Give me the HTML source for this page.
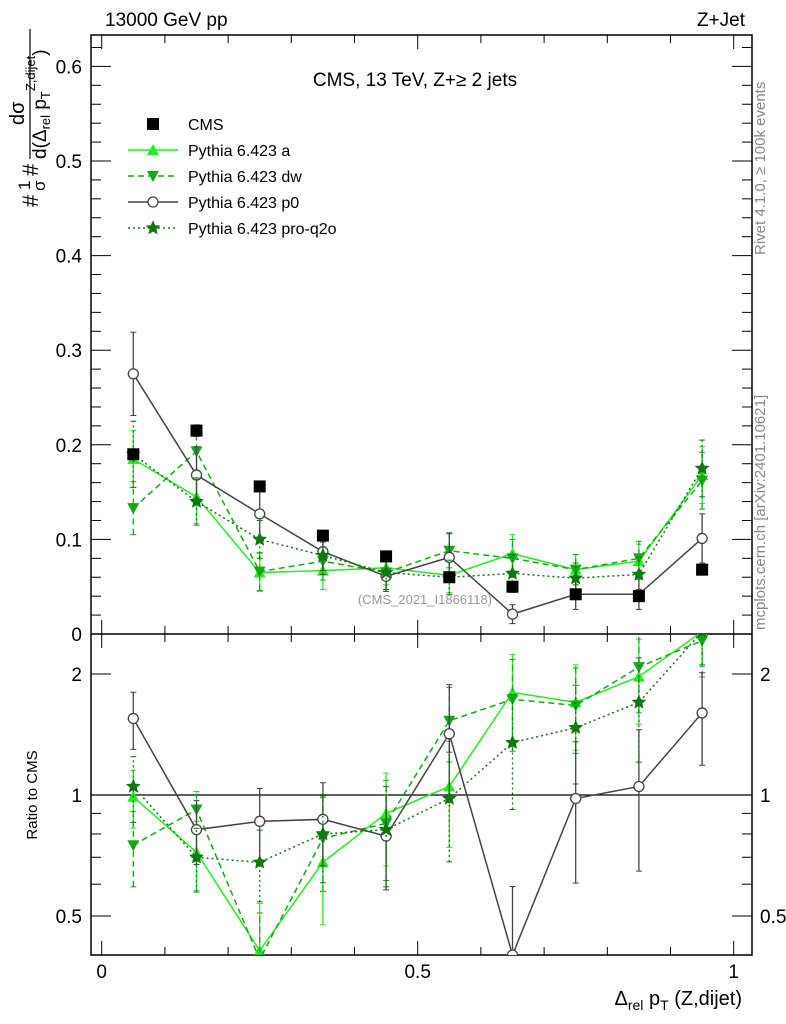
<!DOCTYPE html>
<html><head><meta charset="utf-8"><style>
html,body{margin:0;padding:0;background:#fff;overflow:hidden;width:786px;height:1024px;}
svg{display:block;font-family:"Liberation Sans",sans-serif;}
</style></head><body>
<svg id="chart" width="786" height="1024" viewBox="0 0 786 1024">
<g id="frame"></g>
<g id="marks"></g>
<text x="105" y="26" font-size="19">13000 GeV pp</text>
<text x="745" y="26" font-size="19" text-anchor="end">Z+Jet</text>
<text x="415" y="86" font-size="19" text-anchor="middle">CMS, 13 TeV, Z+≥ 2 jets</text>
<text x="425" y="604" font-size="13" fill="#999" text-anchor="middle">(CMS_2021_I1866118)</text>
<text transform="translate(765,255) rotate(-90)" font-size="15" fill="#888">Rivet 4.1.0, ≥ 100k events</text>
<text transform="translate(765,630) rotate(-90)" font-size="15" fill="#888">mcplots.cern.ch [arXiv:2401.10621]</text>
<text transform="translate(37,795) rotate(-90)" font-size="15" text-anchor="middle">Ratio to CMS</text>
<g transform="translate(46,207) rotate(-90)">
 <text x="0" y="-8" font-size="22">#</text>
 <text x="17" y="-16" font-size="17">1</text>
 <text x="16" y="-1" font-size="17">σ</text>
 <text x="31" y="-8" font-size="22">#</text>
 <text x="82" y="-22" font-size="20">dσ</text>
 <line x1="48" y1="-16" x2="178" y2="-16" stroke="#000" stroke-width="1.2"/>
 <text x="48" y="0" font-size="19">d(Δ<tspan font-size="13" dy="4">rel</tspan><tspan dy="-4"> p</tspan><tspan font-size="13" dy="4">T</tspan><tspan font-size="13" dy="-15">Z,dijet</tspan><tspan dy="11">)</tspan></text>
</g>
<text x="742" y="1005" font-size="20" text-anchor="end">Δ<tspan font-size="14" dy="5">rel</tspan><tspan dy="-5"> p</tspan><tspan font-size="14" dy="5">T</tspan><tspan dy="-5"> (Z,dijet)</tspan></text>
<g id="legend"></g>
</svg>
<script>
const xCenters=[0.05,0.15,0.25,0.35,0.45,0.55,0.65,0.75,0.85,0.95];
const cmsVals=[0.19,0.215,0.156,0.104,0.082,0.060,0.050,0.042,0.040,0.068];
const cmsErr=[0.005,0.006,0.005,0.004,0.003,0.003,0.003,0.002,0.002,0.002];
const aVals=[0.185,0.145,0.065,0.067,0.070,0.062,0.085,0.068,0.077,0.168];
const aErr=[0.030,0.028,0.020,0.020,0.018,0.018,0.020,0.016,0.018,0.030];
const dwVals=[0.133,0.193,0.066,0.077,0.065,0.088,0.080,0.068,0.080,0.162];
const dwErr=[0.028,0.020,0.020,0.020,0.018,0.018,0.020,0.016,0.018,0.030];
const p0Vals=[0.275,0.168,0.127,0.087,0.061,0.081,0.021,0.042,0.042,0.101];
const p0Err=[0.044,0.030,0.026,0.020,0.016,0.026,0.010,0.016,0.016,0.026];
const q2oVals=[0.190,0.140,0.100,0.083,0.065,0.060,0.064,0.059,0.063,0.175];
const q2oErr=[0.035,0.025,0.020,0.020,0.018,0.018,0.020,0.016,0.018,0.030];
const aRatio=[0.99,0.72,0.41,0.68,0.90,1.05,1.80,1.70,1.97,2.55];
const dwRatio=[0.75,0.92,0.39,0.78,0.85,1.53,1.73,1.67,2.08,2.42];
const p0Ratio=[1.55,0.82,0.86,0.87,0.79,1.42,0.40,0.98,1.05,1.60];
const q2oRatio=[1.05,0.70,0.68,0.80,0.82,0.98,1.35,1.47,1.70,2.55];
const mainTicks=["0","0.1","0.2","0.3","0.4","0.5","0.6"];
const ratioTicks=["0.5","1","2"];
const xTicks=["0","0.5","1"];

const NS="http://www.w3.org/2000/svg";
const L=91,R=752,T=35,MB=634,RB=955;
const xs=v=>101.7+v*632;
const ym=v=>634-v*946;
const yr=v=>795-402*Math.log10(v);
function mk(tag,at,parent){const e=document.createElementNS(NS,tag);for(const k in at)e.setAttribute(k,at[k]);parent.appendChild(e);return e;}
const frame=document.getElementById('frame'),marks=document.getElementById('marks');

let r=mk('rect',{x:L,y:T,width:R-L,height:RB-T,fill:'none',stroke:'#000','stroke-width':1.5},frame);


let sep=mk('line',{x1:L,x2:R,y1:MB,y2:MB,stroke:'#000','stroke-width':1.5},frame);


let one=mk('line',{x1:L,x2:R,y1:yr(1),y2:yr(1),stroke:'#000','stroke-width':1.2},frame);


for(let i=0;i<=10;i++){const x=xs(i/10),len=(i%5==0)?14:8;
 for(const [y0,d] of [[MB,-1],[T,1],[RB,-1],[MB,1]]) mk('line',{x1:x,x2:x,y1:y0,y2:y0+d*len,stroke:'#000'},frame);}
xTicks.forEach(t=>{const e=mk('text',{x:xs(parseFloat(t)),y:978,'font-size':19,'text-anchor':'middle'},frame);e.textContent=t;
 
 });
for(let i=0;i<=32;i++){const v=i*0.02,y=ym(v);if(y<T)break;const len=(i%5==0)?20:10;
 mk('line',{x1:L,x2:L+len,y1:y,y2:y,stroke:'#000'},frame);mk('line',{x1:R,x2:R-len,y1:y,y2:y,stroke:'#000'},frame);}
mainTicks.forEach(t=>{const e=mk('text',{x:82,y:ym(parseFloat(t))+7,'font-size':19,'text-anchor':'end'},frame);e.textContent=t;
 
 });
[0.4,0.5,0.6,0.7,0.8,0.9,1,2].forEach(v=>{const y=yr(v);const len=(v==0.5||v==1||v==2)?20:10;
 mk('line',{x1:L,x2:L+len,y1:y,y2:y,stroke:'#000'},frame);mk('line',{x1:R,x2:R-len,y1:y,y2:y,stroke:'#000'},frame);});
ratioTicks.forEach(t=>{const y=yr(parseFloat(t))+7;
 let e=mk('text',{x:82,y:y,'font-size':19,'text-anchor':'end'},frame);e.textContent=t;
 
 
 e=mk('text',{x:760,y:y,'font-size':19},frame);e.textContent=t;
 
 });

function marker(type,x,y,col,g){
 if(type=='sq')return mk('rect',{x:x-6,y:y-6,width:12,height:12,fill:'#000'},g);
 if(type=='up')return mk('polygon',{points:`${x},${y-6} ${x-6},${y+5} ${x+6},${y+5}`,fill:col},g);
 if(type=='dn')return mk('polygon',{points:`${x},${y+6} ${x-6},${y-5} ${x+6},${y-5}`,fill:col},g);
 if(type=='circ')return mk('circle',{cx:x,cy:y,r:5,fill:'#fff',stroke:col,'stroke-width':1.3},g);
 if(type=='star'){let p=[];for(let k=0;k<10;k++){const a=-Math.PI/2+k*Math.PI/5,rr=k%2?3:6.5;p.push((x+rr*Math.cos(a)).toFixed(1)+','+(y+rr*Math.sin(a)).toFixed(1));}
  return mk('polygon',{points:p.join(' '),fill:col,stroke:col,'stroke-width':1},g);}
}
const clipM=mk('clipPath',{id:'cm'},marks);mk('rect',{x:L,y:T,width:R-L,height:MB-T},clipM);
const clipR=mk('clipPath',{id:'cr'},marks);mk('rect',{x:L,y:MB,width:R-L,height:RB-MB},clipR);
function series(name,vals,errs,ratio,col,dash,type){
 const g=mk('g',{'clip-path':'url(#cm)'},marks);
 
 
 if(type!='sq')mk('polyline',{points:vals.map((v,i)=>xs(xCenters[i])+','+ym(v)).join(' '),fill:'none',stroke:col,'stroke-width':1.5,'stroke-dasharray':dash},g);
 vals.forEach((v,i)=>{const x=xs(xCenters[i]);
  mk('line',{x1:x,x2:x,y1:ym(v-errs[i]),y2:ym(v+errs[i]),stroke:col,'stroke-width':1.3,'stroke-dasharray':dash},g);
  mk('line',{x1:x-3,x2:x+3,y1:ym(v-errs[i]),y2:ym(v-errs[i]),stroke:col},g);
  mk('line',{x1:x-3,x2:x+3,y1:ym(v+errs[i]),y2:ym(v+errs[i]),stroke:col},g);
  const m=marker(type,x,ym(v),col,g);
  
  });
 if(!ratio)return;
 const h=mk('g',{'clip-path':'url(#cr)'},marks);
 
 
 mk('polyline',{points:ratio.map((v,i)=>xs(xCenters[i])+','+yr(v)).join(' '),fill:'none',stroke:col,'stroke-width':1.5,'stroke-dasharray':dash},h);
 ratio.forEach((v,i)=>{const x=xs(xCenters[i]);const rel=Math.sqrt((errs[i]/vals[i])**2+(cmsErr[i]/cmsVals[i])**2);
  const lo=v*(1-rel),hi=v*(1+rel);
  mk('line',{x1:x,x2:x,y1:yr(lo),y2:yr(hi),stroke:col,'stroke-width':1.3,'stroke-dasharray':dash},h);
  mk('line',{x1:x-3,x2:x+3,y1:yr(lo),y2:yr(lo),stroke:col},h);
  mk('line',{x1:x-3,x2:x+3,y1:yr(hi),y2:yr(hi),stroke:col},h);
  const m=marker(type,x,yr(v),col,h);
  
  });
}
const cA='#22ee22',cDW='#11aa11',cP0='#444444',cQ='#117711';
series('pythia-a',aVals,aErr,aRatio,cA,'','up');
series('pythia-dw',dwVals,dwErr,dwRatio,cDW,'6,4','dn');
series('pythia-p0',p0Vals,p0Err,p0Ratio,cP0,'','circ');
series('pythia-pro-q2o',q2oVals,q2oErr,q2oRatio,cQ,'2,3','star');
series('cms',cmsVals,cmsErr,null,'#000','','sq');

const lg=document.getElementById('legend');
const ents=[['CMS','#000','','sq',false],['Pythia 6.423 a',cA,'','up',true],['Pythia 6.423 dw',cDW,'6,4','dn',true],['Pythia 6.423 p0',cP0,'','circ',true],['Pythia 6.423 pro-q2o',cQ,'2,3','star',true]];
ents.forEach((e,i)=>{const y=124+i*26;const g=mk('g',{},lg);
 
 
 if(e[4])mk('line',{x1:128,x2:178,y1:y,y2:y,stroke:e[1],'stroke-width':1.5,'stroke-dasharray':e[2]},g);
 marker(e[3],153,y,e[1],g);
 const t=mk('text',{x:188,y:y+6,'font-size':16},g);t.textContent=e[0];});
</script>
</body></html>
